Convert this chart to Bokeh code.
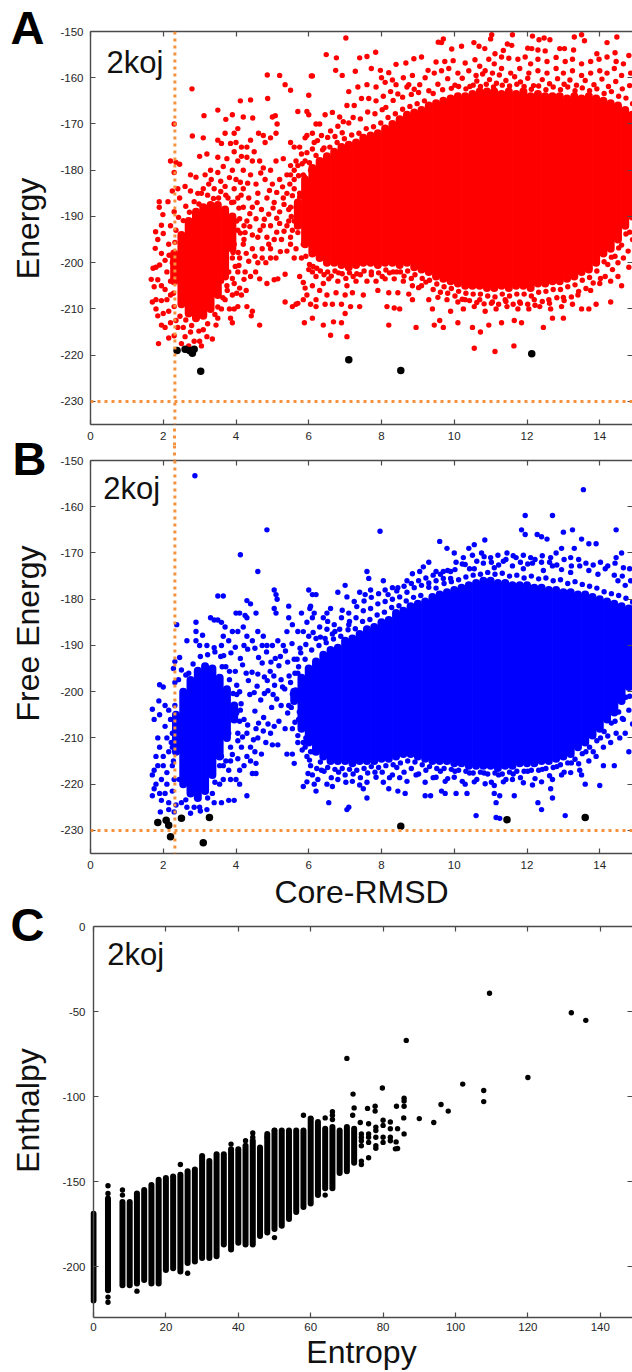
from math import pi
from bokeh.plotting import figure
from bokeh.layouts import column, row
from bokeh.models import Range1d, LinearAxis, FixedTicker, Label, Span
from bokeh.core.properties import value
from bokeh.embed import file_html
from bokeh.resources import INLINE

RMSD_TICKS = [0, 2, 4, 6, 8, 10, 12, 14]
ENERGY_TICKS = [-150, -160, -170, -180, -190, -200, -210, -220, -230]
ENTROPY_TICKS = [0, 20, 40, 60, 80, 100, 120, 140]
ENTHALPY_TICKS = [0, -50, -100, -150, -200]
CORE_RMSD_CUTOFF = 2.32

# ---- Panel A: dense core as columns (x, low, high)
a_core_x = [5.7,5.9,6.1,6.3,6.5,6.7,6.9,7.1,7.3,7.5,7.7,7.9,8.1,8.3,8.5,8.7,8.9,9.1,9.3,9.5,9.7,9.9,10.1,10.3,10.5,10.7,10.9,11.1,11.3,11.5,11.7,11.9,12.1,12.3,12.5,12.7,12.9,13.1,13.3,13.5,13.7,13.9,14.1,14.3,14.5,14.7,14.9]
a_core_lo = [-192,-196,-198,-199,-200,-200,-200.5,-201,-200.5,-200,-200,-200.5,-200,-200,-200.5,-200,-201,-201.5,-202,-203,-203.5,-204,-204.5,-205,-205,-205,-205.5,-205.5,-205,-205.5,-205,-205,-205.5,-204.5,-204.5,-204,-204,-203.5,-203,-202,-201.5,-200,-198,-197,-195,-192,-190]
a_core_hi = [-187,-182,-179.5,-178,-177,-176,-175,-174.5,-174,-173,-172.5,-172,-171,-170,-169,-168,-167.5,-167,-166,-165.5,-165,-164.5,-164,-164,-163.5,-163,-163,-163,-163.5,-163,-163.5,-163,-164,-163.5,-164,-164,-164,-164.5,-164,-164.5,-164,-164.5,-165,-165.5,-166,-167,-168]
a_left_core_x = [2.3,2.5,2.7,2.9,3.1,3.3,3.5,3.7,3.9]
a_left_core_lo = [-204,-209,-211,-212,-211.5,-210,-207,-203,-197]
a_left_core_hi = [-198,-194,-191,-189,-188,-187.5,-187.5,-188.5,-190]
a_points = [
(1.89,-186.8),(1.89,-188),(2.13,-186.8),(1.99,-189.6),(1.95,-191.9),(1.79,-193.3),(2,-193.7),(1.85,-195),(1.78,-196.9),(1.95,-198),(1.72,-201.2),(1.67,-203.6),(1.85,-203.7),(2.05,-199.5),(2.15,-196),(2.2,-192),(2.3,-189),(2.25,-184.5),(2.4,-184),(2.45,-186),(2.2,-178),(2.35,-178.3),(2.3,-180.5),(2.45,-178.7),
(1.8,-201),(1.9,-200.5),(2.1,-202),(2.25,-200),(1.75,-205.2),(1.95,-205),(2.05,-205.8),(2.2,-204),(1.8,-208),(1.7,-208.5),(1.95,-208.2),(2.1,-208),(2.2,-207),(1.8,-210),(1.85,-211.5),(2.0,-211),(2.15,-210.5),(2.3,-209.5),(1.95,-213.5),(2.05,-214),(2.2,-213),(2.35,-212.5),(2.15,-216.3),(2.3,-215.8),(1.87,-217.5),(2.4,-214),(2.55,-214),(2.6,-216),(2.75,-215),(2.85,-217),(2.7,-218),(3.0,-217),(3.2,-216),(3.35,-216.5),(3.1,-214.5),(3.45,-213.5),(3.5,-212),(2.5,-217.5),(3.05,-218),
(2.79,-162.4),(2.8,-172.6),(2.3,-170),(3.12,-168.2),(3.5,-167),(3.72,-169),(3.9,-168),(4.12,-165),(4.4,-164.8),(4.86,-159.4),(4.87,-164.5),(4.2,-168.5),(4.46,-168.7),(4.75,-172.5),(5.0,-168.5),(5.08,-168.2),(5.13,-170),(5.2,-159.5),(5.35,-161.5),(5.5,-162.7),(5.7,-167.3),(5.95,-167.3),(6.0,-163.8),(6.1,-159.6),
(3.1,-173),(3.5,-173.5),(3.6,-174.2),(3.7,-172),(3.85,-174.2),(3.95,-172),(4.0,-174),(4.05,-171),(4.15,-175),(4.3,-175),(4.4,-173.5),(4.5,-176),(4.62,-172),(4.8,-174),(4.95,-173),(5.1,-172),(5.5,-174),(5.6,-175),(5.9,-173),(6.1,-172),(6.3,-170),
(3.0,-177),(3.2,-176.5),(3.5,-177.2),(3.75,-177.5),(3.95,-176),(4.05,-178),(4.15,-177),(4.3,-177.2),(4.45,-178),(4.65,-178),(4.75,-179.5),(4.95,-180),(5.1,-178),(5.3,-177.5),(5.5,-179),(5.7,-179),(5.9,-178),(2.75,-181),(2.9,-181.5),(3.15,-181),(3.3,-180),(3.5,-180.5),(3.65,-179.2),(3.9,-180),(4.0,-182),(4.2,-180),(4.4,-181),(4.55,-183),(4.8,-182),(5.0,-183),(5.2,-182),(5.4,-181),(5.6,-182),(5.85,-181),(6.05,-180),
(2.6,-183.5),(2.75,-184.5),(2.95,-185),(3.25,-183),(3.4,-184),(3.7,-183.5),(3.95,-184),(4.2,-184),(4.35,-186),(4.6,-185),(4.85,-186),(5.05,-187),(5.3,-186),(5.55,-185.5),(5.75,-185),(4.05,-186),(4.2,-188),(4.45,-188),(4.7,-188.5),(4.9,-189.5),(5.2,-189),(5.45,-188.5),(5.65,-188),(4.1,-190.5),(4.3,-191),(4.55,-190.5),(4.75,-192),(4.95,-192),(5.2,-191.5),(5.4,-192),(5.6,-191),
(4.05,-193),(4.25,-193.5),(4.45,-194),(4.6,-194.5),(4.85,-194.5),(5.05,-195),(5.25,-195),(5.5,-194.5),(5.7,-193.5),(3.95,-196),(4.2,-196),(4.45,-197),(4.72,-197),(4.95,-197),(5.4,-197.5),(5.65,-197),(5.85,-196),(3.9,-199),(4.1,-199),(4.35,-199.7),(4.6,-200),(4.82,-200),(4.95,-199),(5.1,-199),(5.6,-199),(5.8,-199),
(3.65,-201),(3.8,-202),(4.05,-202),(4.25,-202),(4.4,-203),(4.65,-203.5),(4.85,-204.5),(5.15,-203.5),(5.05,-203.7),(5.35,-202.5),(5.85,-204.3),(5.75,-203),(6.0,-201.5),(3.6,-204),(3.75,-205),(3.95,-204.5),(4.1,-205.5),(4.15,-207),(3.9,-207),(3.7,-208),(3.6,-210),(3.82,-210),(3.95,-210),(4.05,-209.5),(4.3,-209.5),(4.45,-210.5),(4.42,-211.5),(3.85,-212),(3.9,-213),(4.65,-213.5),(5.35,-208.5),(5.55,-209.5),(5.65,-209),(5.7,-208.8),(5.85,-208),(5.95,-207),(6.05,-209),(6.2,-209.5),(6.1,-205),(5.9,-205.5),(5.88,-213),(6.1,-212),
(7.02,-151.4),(9.56,-152.3),(9.7,-151.6),(9.65,-152.4),(11.03,-150.7),(11,-151.6),(11.6,-150.7),(12.15,-151),(12.33,-151.8),(12.63,-151.8),(12.47,-151.4),(13.3,-151.2),(13.5,-150.7),(13.58,-152),(14.47,-151.2),(14.2,-152.4),(10.54,-152.4),(10.68,-153.2),(10.84,-153.7),(10.2,-153.2),(9.93,-153.8),(11.12,-154.8),(11.35,-154.1),(11.46,-152.7),(11.58,-153),(12.02,-153.6),(12.13,-153.7),(12.3,-154),(12.5,-154.2),(12.9,-153.7),(13.03,-153.7),(13.28,-154),(13.92,-154.8),(14.42,-154.6),(14.8,-155.2),
(6.48,-155),(6.76,-155.7),(7.4,-155.7),(7.6,-155.4),(7.84,-154.5),(6.07,-159.6),(6.74,-158.4),(6.92,-159.5),(7.28,-158.6),(7.72,-158),(7.97,-158.4),(8.2,-158.9),(8.4,-157.1),(8.67,-156.8),(8.89,-155.9),(9.1,-155.5),(9.28,-158.4),(9.5,-156.6),(9.74,-156.5),(9.97,-156.3),(10.3,-156.8),(10.57,-156.1),(10.7,-157.5),(10.95,-156),(11.1,-157),(11.3,-155.5),(11.5,-155.8),(11.75,-156),(11.95,-155.5),(12.1,-157),(12.3,-156),(12.55,-156.5),(12.8,-155.6),(13.05,-156.5),(13.25,-156),(13.5,-157),(13.75,-156.5),(13.98,-156),(14.2,-155.5),(14.45,-156.5),(14.65,-157),
(8.0,-160),(8.3,-160.5),(8.6,-160),(8.85,-159.5),(9.2,-160),(9.45,-159),(9.65,-158.5),(9.85,-158),(10.1,-159),(10.4,-158.5),(10.6,-159.5),(10.85,-158.5),(11.05,-159),(11.3,-158),(11.55,-159),(11.8,-158),(12.05,-159),(12.3,-158.5),(12.55,-159),(12.8,-158),(13.0,-159),(13.25,-158.5),(13.5,-159.5),(13.75,-159),(14.0,-158.5),(14.2,-159),(14.4,-158),(14.6,-159.5),(14.85,-159),
(6.0,-168),(6.2,-170),(6.45,-168),(6.65,-167.5),(6.85,-168.5),(7.05,-166),(6.95,-169.5),(7.25,-166),(7.45,-164.5),(7.65,-164.5),(7.85,-165),(8.05,-164),(8.25,-163),(8.45,-163.5),(8.7,-162),(8.9,-162.5),(7.1,-163),(7.35,-162),(7.6,-161.5),(7.85,-162),(8.1,-161),(8.4,-161.5),(8.75,-161.5),(9.05,-161.5),(5.95,-172.5),(5.75,-175),(6.15,-174),(6.35,-172.5),(6.6,-171.5),(6.8,-170.5),(5.65,-178),(5.8,-176.5),(5.5,-181),(5.6,-184),(5.4,-185),(5.5,-188),(5.45,-191),(5.55,-193),(5.5,-196),
(6.2,-203),(6.4,-204.5),(6.55,-203.5),(6.8,-204),(7.05,-205),(7.3,-204),(7.6,-204),(7.85,-204),(8.1,-203.5),(8.35,-203.5),(8.6,-204),(8.85,-205),(9.1,-205),(6.1,-202),(6.3,-206),(6.5,-207),(6.75,-206.5),(7,-207),(7.2,-206.5),(7.5,-207),(7.9,-206),(8.2,-206.5),(8.45,-206.5),(8.75,-206.8),(6.2,-208),(6.45,-209),(6.65,-209),(6.9,-209),(7.15,-209.5),(7.4,-209.5),(8.15,-209.5),(8.35,-209.8),(8.5,-210),(8.85,-208),(9.3,-208),(9.55,-207.5),(9.8,-208),(10.1,-208.5),(6.4,-213.5),(6.68,-212.8),(6.9,-213),(7.0,-211),(7.05,-216),(6.6,-215.7),(8.2,-213.5),(8.95,-214),(9.45,-213.5),(9.7,-214),(9.6,-212.5),(10.1,-213),(10.5,-214),(10.72,-215),(10.55,-218.5),(11.12,-219.2),(11.64,-218),(10.95,-213.5),(11.3,-213),(11.65,-212.5),(11.85,-213),(12.45,-214),(12.7,-212),(13.0,-212),(9.4,-210),(9.9,-210.5),(10.25,-210),(10.55,-209.5),(10.85,-210.5),(11.15,-210),(11.45,-209.5),(11.75,-210),(12.05,-210),(12.35,-209.5),(12.65,-210),(12.95,-209.5),(13.25,-209),(13.5,-210),(13.7,-210),(13.9,-209),(14.3,-208.5),(10.3,-208),(10.7,-208),(11.05,-208.5),(11.4,-208),(11.8,-208.5),(12.2,-208),(12.6,-208),(13.0,-207.5),(13.4,-207),(13.75,-206),(14.0,-204.5),(14.15,-203),(14.35,-201.5),(14.5,-200),(14.65,-199),(14.78,-197.5),(14.3,-204),(14.5,-203),(14.8,-201),(14.6,-205),(14.9,-195),
(9.3,-162.8),(9.55,-161.4),(9.82,-160.2),(10.02,-161.6),(10.22,-160.1),(10.43,-161.9),(10.62,-160.7),(10.78,-159.2),(10.97,-160.4),(11.16,-161.2),(11.24,-159.4),(11.42,-160.6),(11.66,-159.8),(11.82,-160.9),(12.02,-160.1),(12.18,-161.7),(12.42,-160.4),(12.62,-161.3),(12.84,-160.2),(13.02,-161.4),(13.18,-160.5),(13.36,-161.6),(13.6,-160.6),(13.84,-161.5),(14.06,-160.3),(14.24,-161.9),(14.44,-160.8),(14.62,-162.4),(14.82,-161.7),(8.12,-166.4),(8.32,-164.9),(8.58,-164.2),(8.82,-163.6),(9.02,-163.2),(7.1,-169.8),(7.22,-168.6),(7.42,-168.9),(7.62,-167.4),(7.82,-167.8),(8.02,-166.9),(6.1,-175.4),(6.24,-173.6),(6.42,-175.2),(6.52,-172.9),(6.72,-172.7),(6.92,-171.9),(5.6,-180),(5.72,-181.2),(5.82,-178.6),(5.95,-176.2),
(9.42,-163.4),(9.68,-162.6),(9.92,-162.3),(10.12,-161.9),(10.32,-162.4),(10.52,-161.6),(10.72,-161.9),(10.88,-161.4),(11.08,-162),(11.32,-161.6),(11.52,-161.8),(11.72,-161.4),(11.92,-161.9),(12.12,-162.5),(12.32,-161.8),(12.52,-162.6),(12.72,-162),(12.92,-162.6),(13.12,-162),(13.32,-162.8),(13.52,-162.2),(13.72,-162.8),(13.92,-162.4),(14.12,-163.4),(14.32,-163),(14.52,-164),(14.72,-164.4),(14.9,-165.6),(5.75,-185.8),(5.88,-181.4),(6.02,-178.4),(6.2,-176.8),(6.38,-175.6),(6.58,-175),(6.78,-174),(6.98,-173.2),(7.18,-172.4),(7.38,-172),(7.58,-171),(7.78,-170.6),(7.98,-169.8),(8.18,-168.6),(8.38,-167.8),(8.58,-166.8),(8.78,-166.2),(8.98,-165.6),(9.18,-165),
(2.35,-193),(2.42,-190.2),(2.55,-190.9),(2.62,-187.8),(2.72,-189.1),(2.85,-186.8),(2.98,-187.3),(3.05,-185),(3.22,-185.4),(3.38,-186.1),(3.58,-184.6),(3.78,-186),(3.94,-186.9),(4.08,-188.2),(4.02,-191),(4.12,-193.6),(4.22,-192),(4.06,-197.8),(3.98,-200.8),(3.9,-203.4),(3.76,-206),(3.64,-207.6),(3.5,-209.6),(3.42,-211.2),(3.22,-213.2),(2.98,-214.8),(2.78,-213.6),(2.62,-212.4),(2.46,-211.6),(2.28,-206.6),(2.16,-198.4),(2.32,-195.6),
(6.02,-200.4),(6.22,-201.2),(6.42,-202.6),(6.62,-202.9),(6.82,-202.2),(7.02,-203.4),(7.22,-203),(7.42,-202.6),(7.72,-202.6),(8.02,-203),(8.22,-202.2),(8.42,-202),(8.62,-202.9),(8.82,-203.4),(9.02,-205.4),(9.22,-204.2),(9.42,-205.8),(9.62,-206.4),(9.82,-206.6),(10.02,-207.2),(10.22,-207.9),(10.42,-208.2),(10.62,-208.6),(10.82,-208.9),(11.02,-208.8),(11.22,-209),(11.42,-208.4),(11.62,-209),(11.82,-208.8),(12.02,-209),(12.22,-209.2),(12.42,-208.4),(12.62,-208.8),(12.82,-207.6),(13.02,-208.2),(13.22,-207.4),(13.42,-206.2),(13.62,-205.6),(13.82,-204.4),(14.02,-203.4),(14.22,-200.4),(14.42,-198.6),(14.6,-196.2),(14.82,-193.4),
(5.92,-198.6),(6.12,-200.8),(6.32,-201.8),(6.52,-202),(6.72,-201.8),(6.92,-202.4),(7.12,-202.2),(7.32,-202.4),(7.52,-201.8),(7.72,-202),(7.92,-202.2),(8.12,-201.6),(8.32,-202),(8.52,-202),(8.72,-201.8),(8.92,-202.6),(9.12,-203.4),(9.32,-203.8),(9.52,-204.6),(9.72,-205.2),(9.92,-205.6),(10.12,-206.2),(10.32,-206.6),(10.52,-206.8),(10.72,-206.8),(10.92,-207.2),(11.12,-207.4),(11.32,-206.8),(11.52,-207.2),(11.72,-206.8),(11.92,-206.8),(12.12,-207.2),(12.32,-206.4),(12.52,-206.2),(12.72,-205.8),(12.92,-205.8),(13.12,-205.2),(13.32,-204.8),(13.52,-203.8),(13.72,-203.2),(13.92,-201.8),(14.12,-199.8),(14.32,-198.8),(14.52,-196.8),(14.72,-193.8),
(3.32,-182),(3.58,-182.4),(3.82,-181.6),(4.12,-182.6),(4.32,-182.8),(4.68,-180.6),(4.92,-184.4),(5.12,-184.8),(5.28,-183.6),(5.48,-183),(3.1,-184),(3.52,-186),(3.72,-185.4),(3.88,-187),(4.14,-185.4),(4.38,-189.4),(4.58,-187),(4.78,-190.6),(5.02,-188.2),(5.12,-190.4),(5.32,-187.4),(5.52,-190),(4.22,-195),(4.38,-192.2),(4.66,-193),(4.9,-196),(5.12,-193.4),(5.32,-193.2),(4.08,-200.6),(4.28,-198),(4.52,-198.6),(4.72,-199),(5.22,-197.6),(3.92,-197.8),(4.22,-203.6),(4.54,-202),(4.02,-206.6),(4.28,-206),
]
a_black_x = [2.38, 2.6, 2.72, 2.8, 2.85, 3.03, 7.1, 8.53, 12.13]
a_black_y = [-219, -218.7, -219, -219.6, -218.7, -223.5, -221, -223.3, -219.7]

# ---- Panel B
b_core_x = [5.6,5.8,6.0,6.2,6.4,6.6,6.8,7.0,7.2,7.4,7.6,7.8,8.0,8.2,8.4,8.6,8.8,9.0,9.2,9.4,9.6,9.8,10.0,10.2,10.4,10.6,10.8,11.0,11.2,11.4,11.6,11.8,12.0,12.2,12.4,12.6,12.8,13.0,13.2,13.4,13.6,13.8,14.0,14.2,14.4,14.6,14.8]
b_core_lo = [-202,-208,-211,-213,-214,-215,-215,-215,-215.5,-215,-215,-215,-214.5,-214.5,-214,-213.5,-213.5,-214,-214.5,-215,-215,-215,-215.5,-215.5,-216,-216,-216,-216,-216.5,-216,-216,-215.5,-215.5,-215.5,-215,-215,-214.5,-214,-213.5,-212,-211,-209.5,-208,-206,-204.5,-202,-199]
b_core_hi = [-200,-197,-195,-193.5,-192,-191,-190.5,-189,-188.5,-187.5,-186.5,-186,-185,-184.5,-183,-182.5,-181.5,-181,-180.5,-179.5,-179,-178.5,-178,-177.5,-177,-176.5,-176,-176,-176.5,-176.5,-177,-177,-177,-177.5,-177.5,-178,-178,-178.5,-178.5,-179,-179,-179.5,-180,-180.5,-181,-181.5,-182]
b_left_core_x = [2.35,2.55,2.75,2.95,3.15,3.35,3.55,3.75,3.95]
b_left_core_lo = [-213,-220,-222,-223,-221.5,-218,-214,-210,-206]
b_left_core_hi = [-205,-200,-197.5,-195.5,-194.5,-195,-197,-199.5,-203]
b_points = [
(2.87,-153.3),(4.85,-165),(4.12,-170.4),(4.6,-174),(3.5,-179.3),(3.65,-179.3),(4.3,-180.3),(4.4,-181),(5.05,-178),(5.1,-179),(5.13,-180),(6.0,-178),(6.1,-179),(6.2,-179),(6.03,-182),(5.05,-182),(5.1,-183),(5.45,-181.5),(4.55,-183),(4.0,-183),(4.1,-183),(4.25,-183.5),(4.3,-184),(3.65,-188),(3.3,-184),(3.4,-184.5),(3.5,-184.5),(3.6,-185),(3.7,-186),(2.9,-185),(2.9,-187),(3.08,-187.8),(2.65,-189),(2.9,-189),(3.0,-190),(3.2,-190),(3.4,-190.5),(3.6,-190),(3.8,-189),(3.9,-187),(4.05,-187),(4.2,-186),(4.3,-188),(4.45,-189),(4.6,-187),(4.75,-188),(4.85,-190),(5.0,-190),(5.15,-189),(5.3,-190),(5.45,-184),(5.55,-185.5),(5.7,-187),(5.85,-187),(5.95,-185),(6.1,-184),(5.8,-183),(5.4,-187),
(2.37,-185.5),(2.45,-192.6),(2.32,-193.5),(2.28,-195),(2.5,-195.3),(2.32,-198),(2.7,-196),(1.9,-198.5),(2.0,-199),(1.88,-202),(1.7,-203.8),(2.05,-203),(2.15,-204),(1.9,-205),(1.75,-206),(2.2,-206),(2.05,-207.5),(1.85,-210),(1.9,-212),(2.1,-210),(2.25,-209),(2.0,-214),(1.8,-214),(2.15,-213),(2.25,-212),(1.75,-217),(1.7,-218),(1.85,-216),(2.0,-216),(2.1,-217.5),(2.25,-216),(1.8,-220),(1.95,-219),(2.1,-220),(2.3,-219),(1.75,-221),(1.7,-222.5),(1.9,-222),(2.05,-222),(2.25,-221.5),(1.95,-223.5),(2.15,-224),(2.35,-224.5),(1.92,-226),(2.15,-225.5),(2.3,-226),(2.5,-224),(2.65,-225),(2.75,-226.3),(3.0,-225),(3.2,-225.5),(3.4,-224),(3.6,-224),(3.8,-223.5),(3.95,-223.5),(4.3,-222.5),(2.85,-225),(3.35,-222),
(3.55,-220),(3.65,-219),(3.85,-219),(3.8,-217),(4.0,-219),(4.1,-220),(4.1,-217),(3.65,-216),(3.6,-214),(3.85,-215),(4.05,-214.5),(4.3,-214),(4.45,-217.7),(4.55,-217.7),(3.85,-212),(4.15,-212),(4.4,-212),(4.6,-210),(4.7,-213.5),(4.4,-215),(4.55,-215.5),(3.8,-209),(4.05,-209),(4.3,-209),(4.55,-208),(4.75,-208.5),(4.95,-209),(5.0,-211.5),(5.15,-211.5),(5.05,-207.5),(5.35,-208),(5.4,-213.5),(5.55,-213.5),(5.6,-215.5),(5.7,-211),(5.9,-212),(5.95,-214),(6.05,-216),(5.85,-220.5),(5.95,-219.5),(5.98,-217.7),(6.15,-220),(6.2,-221.5),
(3.72,-203.4),(4.02,-204.6),(4.22,-206),(4.52,-204.2),(4.76,-205.6),(4.98,-203.4),(5.18,-206.4),(5.42,-204.6),(5.62,-206.6),(5.78,-207.6),(3.92,-200.4),(4.14,-202.6),(4.38,-200.6),(4.68,-201.8),(4.88,-199.8),(5.12,-201.6),(5.34,-199.4),(5.52,-203.4),(5.74,-204.4),(5.46,-196.6),(3.82,-197.4),(4.02,-198.6),(4.34,-197.6),(4.58,-198.8),(4.78,-196.8),(5.06,-198.6),(5.24,-197.4),(5.64,-199.6),(3.72,-194.6),(3.98,-195.6),(4.18,-194.2),(4.44,-195.8),(4.72,-193.8),(4.94,-195.6),(5.18,-194.4),(5.42,-193.6),(5.68,-193),(3.58,-192.4),(3.86,-191.6),(4.12,-192.8),(4.32,-190.8),(4.62,-192.6),(4.84,-191.4),(5.08,-192.8),(5.36,-191.2),(5.54,-189.6),(5.76,-190.6),
(7.96,-165.3),(10.84,-167.2),(10.55,-168.2),(10.4,-169),(9.6,-167.5),(9.3,-172),(9.8,-169),(10.0,-170),(11.85,-165),(11.95,-166),(12.7,-161.9),(11.95,-161.9),(13.55,-156.3),(14.45,-165),(12.28,-166),(12.4,-166.5),(12.55,-167),(13.0,-165.5),(13.25,-165),(13.5,-167),(13.7,-168),(13.9,-168),(14.45,-171),(14.6,-170),(13.3,-169),(13.2,-171),(12.95,-169),(12.8,-170),(12.65,-171),(12.4,-172),(12.1,-171),(11.9,-170.5),(11.7,-171),(11.45,-170),(11.2,-170.5),(11,-171),(10.75,-170),(10.5,-170.5),(10.25,-171),(10.05,-172),
(6.05,-181.5),(6.15,-183),(6.4,-184),(6.5,-183),(6.6,-182),(6.8,-178.5),(7.0,-177),(7.05,-179.5),(7.25,-180.5),(7.4,-178.5),(7.55,-179),(7.7,-178),(7.65,-175.5),(7.6,-174),(8.05,-176),(8.1,-178),(8.3,-177.5),(8.45,-177.5),(8.7,-176),(8.85,-174.5),(9.05,-174),(9.15,-173),(9.5,-174),(9.7,-174),(9.9,-174),(10.3,-172.5),(10.55,-173.4),(10.8,-172.2),(11.1,-173.2),(11.35,-171.8),(11.6,-172.8),(11.9,-173.4),(12.15,-172.2),(12.45,-173.8),(12.7,-172.8),(12.95,-173.6),(13.2,-174.2),(13.45,-172.8),(13.7,-173.8),(13.95,-174.6),(14.15,-173.4),(14.4,-174.8),(14.65,-173.2),(14.85,-176),(14.7,-177),(14.5,-176),
(6.3,-186),(6.5,-186.5),(6.7,-185.5),(6.9,-184),(7.1,-183),(7.3,-184),(7.5,-182.5),(7.7,-182),(7.9,-181),(8.1,-180.5),(8.3,-180),(8.5,-179.5),(8.7,-178.5),(8.9,-177.5),(9.1,-177),(9.3,-176.5),(9.5,-176),(9.7,-175.5),(9.9,-175.5),(6.0,-188),(6.2,-188.5),(6.45,-188.5),(6.65,-187.5),(6.85,-186.5),(7.1,-185.5),(5.6,-193),(5.7,-196),(5.5,-198),(5.55,-200.5),(5.45,-203),(5.55,-208),(5.7,-209.5),(5.85,-211),(6.05,-213),(6.35,-217),(6.1,-218),(6.25,-219),(6.5,-220),(6.65,-220.5),(6.8,-219),(7.0,-218),(7.2,-219.4),(7.4,-220.2),(7.6,-219.6),(7.85,-218.5),(8.05,-219.6),(8.3,-218),(8.5,-218.6),(8.7,-219.4),(8.95,-218),(9.2,-219.6),(9.5,-218.5),(9.75,-219.4),(10,-218.5),(10.3,-220),(10.55,-219.5),(10.85,-219.9),(11.1,-220.3),(11.35,-219.5),(11.6,-219),(11.9,-219.7),(12.15,-220.2),(12.4,-219.5),(12.7,-219),(12.95,-218),(13.2,-217.5),(13.45,-217),(13.7,-215),(13.9,-214),(14.1,-212),(14.3,-211),(14.45,-209),(14.65,-206),(14.8,-204),
(6.55,-224),(7.05,-225.5),(7.1,-225),(7.6,-223),(7.5,-221),(8.2,-221),(8.45,-221.5),(8.65,-222),(9.2,-222.5),(9.35,-222.5),(9.65,-221.5),(9.75,-222),(10.05,-222),(10.35,-222),(11.1,-222),(11.25,-222.5),(11.15,-224),(11.65,-222.5),(12.3,-224),(12.4,-225.5),(12.7,-223),(12.65,-221),(10.6,-226.8),(11.15,-227.2),(11.25,-227.4),(13.05,-226.8),(14,-220.3),(13.6,-220),(13.5,-218),(14.4,-216),(14.1,-216),(14.8,-213),(14.55,-210),(14.7,-209),(14.9,-207),
(7.72,-179.6),(7.92,-178.8),(8.18,-179),(8.42,-178.2),(8.62,-177.2),(8.82,-176.6),(9.02,-176),(9.22,-175.4),(9.42,-174.8),(9.62,-174.6),(9.82,-173.8),(10.02,-173.6),(10.22,-172.4),(10.42,-173.4),(10.62,-171.8),(10.82,-170.8),(11.02,-172),(11.22,-172.6),(11.42,-171.4),(11.62,-170.6),(11.82,-172),(12.02,-172.4),(12.22,-171.4),(12.42,-170.6),(12.62,-172),(12.82,-172.6),(13.02,-171.4),(13.22,-172.8),(13.42,-171.4),(13.62,-172.2),(13.82,-172.6),(14.02,-172),(14.22,-172.8),(14.42,-172.2),(14.62,-175),(14.82,-173.4),
(9.3,-177.4),(9.5,-177.6),(9.72,-176.6),(9.92,-176.2),(10.12,-175.8),(10.32,-175.2),(10.52,-174.8),(10.72,-174.6),(10.92,-174.2),(11.12,-174.6),(11.32,-174.4),(11.52,-175),(11.72,-174.8),(11.92,-175.4),(12.12,-175),(12.32,-175.6),(12.52,-175.4),(12.72,-176),(12.92,-175.8),(13.12,-176.6),(13.32,-176.2),(13.52,-176.8),(13.72,-177.2),(13.92,-177.6),(14.12,-178.4),(14.32,-178.8),(14.52,-179.2),(14.72,-179.8),(14.9,-180.6),
(5.62,-196),(5.78,-191.6),(5.92,-189.8),(6.12,-187.2),(6.32,-188.2),(6.52,-184.8),(6.72,-187),(6.92,-182.4),(7.12,-184.8),(7.32,-181.6),(7.52,-180.4),(5.72,-194.6),(5.9,-193),(6.08,-191),(6.28,-190),(6.48,-189.4),(6.68,-188.6),(6.88,-188),(7.08,-186.6),(7.28,-186.4),(7.48,-184.8),(7.68,-184.4),(7.88,-183.4),(8.08,-182.8),(8.28,-181.8),(8.48,-181.4),(8.68,-180.4),(8.88,-179.6),(9.08,-179.2),
(2.42,-197.4),(2.62,-196.4),(2.82,-194),(3.02,-192.4),(3.22,-192),(3.42,-191.4),(3.62,-194.6),(3.82,-195.6),(4.02,-200.6),(4.1,-206.4),(4.05,-210.6),(3.9,-213.6),(3.72,-215),(3.55,-216),(3.42,-219.6),(3.22,-223),(3.02,-225.8),(2.62,-223.4),(2.44,-219),(2.28,-215),(2.22,-211),(2.32,-203),
(5.82,-212.6),(6.02,-214.8),(6.22,-216.6),(6.42,-217.2),(6.62,-218.6),(6.82,-217.4),(7.02,-219.6),(7.22,-217.8),(7.42,-218.6),(7.62,-217.6),(7.82,-217.4),(8.02,-217.4),(8.22,-218.6),(8.42,-216.4),(8.62,-217.4),(8.82,-216.6),(9.02,-217.8),(9.22,-217),(9.42,-218.6),(9.62,-217.2),(9.82,-218.8),(10.02,-217.2),(10.22,-219.4),(10.42,-217.6),(10.62,-219),(10.82,-217.6),(11.02,-219.6),(11.22,-218),(11.42,-219),(11.62,-217.8),(11.82,-218.6),(12.02,-217.2),(12.22,-218.8),(12.42,-216.8),(12.62,-218.2),(12.82,-216.2),(13.02,-217.4),(13.22,-215.4),(13.42,-215.6),(13.62,-213),(13.82,-213),(14.02,-210),(14.22,-209.6),(14.42,-206.4),(14.62,-205.8),(14.82,-201),
(5.72,-206),(5.92,-210),(6.12,-213),(6.32,-215.2),(6.52,-216.4),(6.72,-216.8),(6.92,-216.6),(7.12,-216.8),(7.32,-217),(7.52,-216.6),(7.72,-216.2),(7.92,-216.4),(8.12,-216),(8.32,-215.8),(8.52,-215.4),(8.72,-215),(8.92,-215.2),(9.12,-215.8),(9.32,-216.2),(9.52,-216.6),(9.72,-216.6),(9.92,-216.8),(10.12,-217),(10.32,-217.2),(10.52,-217.6),(10.72,-217.4),(10.92,-217.8),(11.12,-217.6),(11.32,-217.8),(11.52,-217.4),(11.72,-217.2),(11.92,-217.2),(12.12,-217),(12.32,-217),(12.52,-216.6),(12.72,-216.4),(12.92,-215.8),(13.12,-215.4),(13.32,-214.6),(13.52,-213.4),(13.72,-212),(13.92,-210.6),(14.12,-208.6),(14.32,-206.8),(14.52,-204.4),(14.72,-201.2),
(4.12,-204),(4.32,-207.2),(4.62,-206.8),(4.88,-207),(4.18,-209.8),(4.48,-210.4),(4.22,-216),(4.52,-213),(4.82,-211),(3.66,-192.2),(3.98,-190.4),(4.22,-190),(4.52,-190.6),(4.72,-190),(4.96,-193.6),(5.22,-192.4),(5.04,-196.6),(4.28,-196),(4.6,-196.2),(4.86,-197.6),(4.1,-200),(4.5,-200.2),(4.78,-200.4),(5.02,-200.6),(5.24,-203),(5.28,-199),
]
b_black_x = [1.85, 2.08, 2.15, 2.2, 2.5, 3.27, 3.1, 8.53, 11.45, 13.6]
b_black_y = [-228.3, -227.8, -228.9, -231.4, -227.4, -227.2, -232.7, -229.1, -227.7, -227.2]

# ---- Panel C: entropy strips (entropy, enthalpy low, enthalpy high) and isolated points
c_x = [0,4,8,10,12,14,16,18,20,22,24,26,28,30,32,34,36,38,40,42,44,46,48,50,52,54,56,58,60,62,64,66,68,70,72]
c_lo = [-220,-214,-211,-211,-210,-208,-210,-210,-202,-201,-203,-198,-197,-195,-195,-194,-187,-190,-186,-187,-187,-182,-180,-178,-176,-172,-168,-165,-163,-158,-154,-154,-145,-144,-139]
c_hi = [-169,-160,-162,-162,-157,-155,-152,-149,-148,-147,-146,-144,-143,-135,-138,-134,-134,-131,-131,-129,-126,-130,-122,-120,-120,-120,-120,-120,-113,-115,-119,-118,-120,-118,-119]
c_points = [
(4,-152.5),(4,-157),(4,-218),(4,-221),(8,-155),(8,-158),(12,-214.5),(24,-140),(26,-204),(38,-128),(42,-126),(44,-121.5),(44,-124),(48,-124),(50,-120),(50,-183),(58,-111),(60,-113),(64,-112.6),(64,-158),(66,-109),(66,-111),(66,-113.5),
(70,-77.6),(71.7,-98.6),(72,-106.7),(71.6,-111),(73.7,-115.3),(75.7,-107),(77.8,-105.7),(77.8,-108.6),(79.8,-95),(86.4,-67),(83.7,-105.7),(85.8,-101),(85.8,-102.7),(85.8,-105.7),(85.7,-112.6),(84,-118.9),(85.8,-122),(83.6,-126.7),(84,-130.6),(83.4,-130.8),
(90,-113),(94,-115.3),(96,-104.7),(98,-108.6),(102,-92.7),(107.8,-96.5),(107.8,-103),(109.4,-39.3),(120,-88.8),(132,-50.7),(136,-55.2),
(74,-122),(74,-124),(74,-126),(74,-129),(74,-138),(74,-140),(76,-116),(76,-122),(76,-124),(76,-127),(76,-136),(78,-118),(78,-120),(78,-124),(78,-129),(78,-130.5),(80,-114),(80,-117),(80,-124),(80,-127),(82,-115),(82,-119),(82,-124),(82,-126),
]

# Side texts (panel letters and vertical axis titles)
side_texts = ["A", "B", "C"]
rotated_texts = ["Energy", "Free Energy", "Enthalpy"]

ORANGE = "#F5923E"
AXIS = "#4a4a4a"
FONT = "Liberation Sans"
TICK_COLOR = "#262626"
DOTS = "3 4"
STRIP = 52


def make_axis(ticks, labelled, in_len=5, standoff=7, minor=None, minor_out=0):
    ticker = FixedTicker(ticks=ticks, minor_ticks=minor or [])
    ax = LinearAxis(ticker=ticker, major_tick_in=in_len, major_tick_out=0,
                    minor_tick_in=0, minor_tick_out=minor_out,
                    axis_line_color=AXIS, axis_line_width=1.4,
                    major_tick_line_color=AXIS, major_tick_line_width=1.2,
                    major_label_text_font=FONT, major_label_text_font_size="11.5px",
                    major_label_text_color=TICK_COLOR, major_label_standoff=standoff)
    if minor:
        # the vertical guide crosses the gap between panels A and B as a long minor tick
        ax.minor_tick_line_color = ORANGE
        ax.minor_tick_line_width = 3
        ax.minor_tick_line_dash = DOTS
    else:
        ax.minor_tick_line_color = None
    ax.major_label_overrides = {t: (str(t) if labelled else "") for t in ticks}
    return ax


def panel(height, top, bottom, xr, yr, xticks, yticks):
    p = figure(width=632 - STRIP, height=height, x_range=Range1d(*xr), y_range=Range1d(*yr),
               output_backend="svg", toolbar_location=None, x_axis_type=None, y_axis_type=None,
               min_border_top=top, min_border_bottom=bottom, min_border_left=38, min_border_right=0)
    p.outline_line_color = None
    p.xgrid.visible = False
    p.ygrid.visible = False
    return p


def x_title(ax, text, standoff):
    ax.axis_label = text
    ax.axis_label_text_font = FONT
    ax.axis_label_text_font_style = "normal"
    ax.axis_label_text_font_size = "32px"
    ax.axis_label_text_color = "#111111"
    ax.axis_label_standoff = standoff


def cloud(p, colour, cores, points):
    for cx_, lo, hi in cores:
        p.segment(cx_, lo, cx_, hi, line_color=colour, line_width=8, line_cap="round")
    xs, ys = zip(*points)
    p.scatter(list(xs), list(ys), size=5.4, color=colour, line_color=None)


def guides(p):
    p.add_layout(Span(location=-230, dimension="width", line_color=ORANGE, line_width=3, line_dash=DOTS))
    p.add_layout(Span(location=CORE_RMSD_CUTOFF, dimension="height", line_color=ORANGE, line_width=3, line_dash=DOTS))


def note(p, x, y):
    p.add_layout(Label(x=x, y=y, text="2koj", text_font=FONT, text_font_size="31px",
                       text_color="#111111", text_baseline="alphabetic"))


XR = (0, 14.9)
YR = (-235, -150)

a = panel(445, 31, 21, XR, YR, RMSD_TICKS, ENERGY_TICKS)
a.add_layout(make_axis(RMSD_TICKS, True, standoff=-14, minor=[CORE_RMSD_CUTOFF], minor_out=21), "below")
a.add_layout(make_axis(ENERGY_TICKS, True), "left")
a.add_layout(make_axis(RMSD_TICKS, False, standoff=0), "above")
right_a = make_axis(ENERGY_TICKS, False, standoff=0)
right_a.axis_line_color = None
a.add_layout(right_a, "right")
cloud(a, "#FF0000", list(zip(a_core_x, a_core_lo, a_core_hi)) + list(zip(a_left_core_x, a_left_core_lo, a_left_core_hi)), a_points)
a.scatter(a_black_x, a_black_y, size=7.5, color="black", line_color=None)
guides(a)
note(a, 0.44, -156.6)

b = panel(467, 15, 59, XR, YR, RMSD_TICKS, ENERGY_TICKS)
b_below = make_axis(RMSD_TICKS, True)
x_title(b_below, "Core-RMSD", 2)
b.add_layout(b_below, "below")
b.add_layout(make_axis(ENERGY_TICKS, True), "left")
b.add_layout(make_axis(RMSD_TICKS, False, standoff=0, minor=[CORE_RMSD_CUTOFF], minor_out=15), "above")
right_b = make_axis(ENERGY_TICKS, False, standoff=0)
right_b.axis_line_color = None
b.add_layout(right_b, "right")
cloud(b, "#0000FF", list(zip(b_core_x, b_core_lo, b_core_hi)) + list(zip(b_left_core_x, b_left_core_lo, b_left_core_hi)), b_points)
b.scatter(b_black_x, b_black_y, size=7.5, color="black", line_color=None)
guides(b)
note(b, 0.35, -156.1)

c = panel(460, 14, 55, (-0.83, 148.9), (-230, 0), ENTROPY_TICKS, ENTHALPY_TICKS)
c_below = make_axis(ENTROPY_TICKS, True, standoff=5)
c_below.bounds = (0, 149)
x_title(c_below, "Entropy", 0)
c.add_layout(c_below, "below")
c_top = make_axis(ENTROPY_TICKS, False, standoff=0)
c_top.bounds = (0, 149)
c.add_layout(c_top, "above")
# tick labels on the frame's edge; the axis line and ticks themselves sit on entropy 0, inside it
c_labels = make_axis(ENTHALPY_TICKS, True, in_len=0, standoff=5)
c_labels.axis_line_color = None
c_labels.major_tick_line_color = None
c.add_layout(c_labels, "left")
c_line = make_axis(ENTHALPY_TICKS, False, standoff=0)
c_line.fixed_location = 0
c.add_layout(c_line, "left")
right_c = make_axis(ENTHALPY_TICKS, False, standoff=0)
right_c.axis_line_color = None
c.add_layout(right_c, "right")
for x, l, h in zip(c_x, c_lo, c_hi):
    c.segment(x, l, x, h, line_color="black", line_width=6, line_cap="round")
cxs, cys = zip(*c_points)
c.scatter(list(cxs), list(cys), size=5.4, color="black", line_color=None)
note(c, 3.8, -16.4)

# Left strip holding the texts beyond the panels' frames; its scale runs in page pixels
strip = figure(width=STRIP, height=1372, x_range=Range1d(0, STRIP), y_range=Range1d(1372, 0),
               output_backend="svg", toolbar_location=None, x_axis_type=None, y_axis_type=None,
               min_border=0)
strip.outline_line_color = None
strip.xgrid.visible = False
strip.ygrid.visible = False
strip.text([10, 12, 10], [27, 458, 924], text=side_texts, text_font=value(FONT), text_font_size="47px",
           text_font_style="bold", text_color="#000000", text_baseline="alphabetic")
strip.text([27.5, 27.5, 27], [228, 633, 1110], text=rotated_texts, text_font=value(FONT), text_font_size="32px",
           text_color="#111111", angle=pi / 2, text_align="center", text_baseline="alphabetic")

page = row(strip, column(a, b, c, spacing=0), spacing=0)
open("out.html", "w").write(file_html(page, INLINE))
